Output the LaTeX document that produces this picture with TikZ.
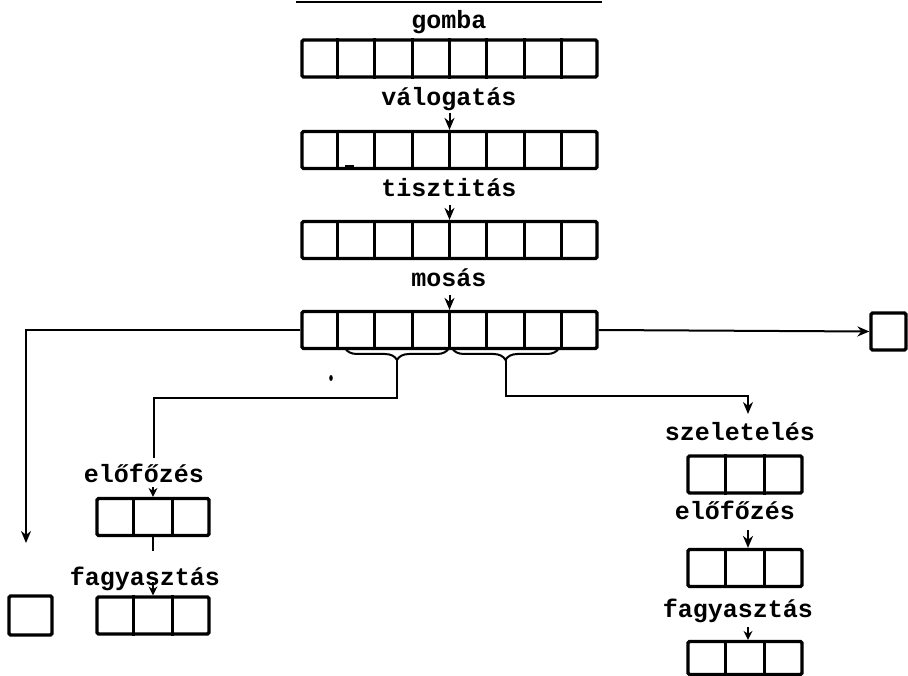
\documentclass[tikz,border=0pt]{standalone}
\usepackage{fontspec}
\setmonofont{Liberation Mono}
\usetikzlibrary{arrows.meta,decorations.pathreplacing,calc}
\begin{document}
\begin{tikzpicture}[x=1pt,y=-1pt,
  lbl/.style={font=\ttfamily\bfseries\fontsize{25}{25}\selectfont, inner sep=0pt, anchor=base},
  cellrow/.style={draw, line width=3.2pt, rounded corners=1.5pt, minimum height=37pt, inner sep=0pt},
  row8/.style={cellrow, minimum width=295pt},
  row3/.style={cellrow, minimum width=112pt},
  row3w/.style={cellrow, minimum width=114pt},
  single/.style={cellrow},
  divider/.style={line width=3pt},
  wire/.style={line width=2pt},
  arr/.style={wire, -{Stealth[length=12pt,width=10pt]}},
  stubarr/.style={wire, -{Stealth[length=9pt,width=9pt]}},
  bracedeco/.style={wire, decorate, decoration={brace, mirror, amplitude=12pt}}
]
\useasboundingbox (0,0) rectangle (908,676);

% heading rule
\coordinate (hl) at (296,2);
\coordinate (hr) at (602,2);
\draw[line width=2pt] (hl) -- (hr);

% main line of eight-cell rows
\node[lbl] (l1) at (449,29) {gomba};
\node[row8] (r1) at (449.5,58.5) {};
\node[lbl] (l2) at (449,106) {válogatás};
\node[row8] (r2) at (449.5,150) {};
\node[lbl] (l3) at (449,197) {tisztitás};
\node[row8] (r3) at (449.5,240) {};
\node[lbl] (l4) at (449,287) {mosás};
\node[row8] (r4) at (449.5,330) {};

\foreach \r in {r1,r2,r3,r4}
  \foreach \k in {1,...,7}
    \draw[divider] ($(\r.north west)!\k/8!(\r.north east)$) -- ($(\r.south west)!\k/8!(\r.south east)$);

\draw[arr] (r2.north |- l2.base) ++(0,7) -- (r2.north);
\draw[arr] (r3.north |- l3.base) ++(0,8) -- (r3.north);
\draw[arr] (r4.north |- l4.base) ++(0,8) -- (r4.north);

% small blemish in the second row
\draw[line width=2.6pt] (345,166) -- (354,166);

% side outlets of the washing row
\node[single, minimum width=35pt] (bx2) at (888.5,331.5) {};
\draw[arr] (r4.east) -- (bx2.west);
\coordinate (lt) at (26,543);
\draw[arr] (r4.west) -| (lt);
\node[single, minimum width=43pt, minimum height=39pt] (bx1) at (30.5,615.5) {};

% splitting braces
\coordinate (bA1) at (345,348);
\coordinate (bA2) at (449,348);
\coordinate (bB1) at (452,348);
\coordinate (bB2) at (559,348);
\draw[bracedeco] (bA1) -- (bA2);
\draw[bracedeco] (bB1) -- (bB2);
\coordinate (tipA) at (397,360);
\coordinate (tipB) at (505.5,360);
\fill (331,378) ellipse (1.8pt and 3pt);

% left branch
\coordinate (jA) at (154,458);
\draw[wire] (tipA) -- (397,398) -| (jA);
\node[lbl] (l5) at (144,482) {előfőzés};
\node[row3] (r5) at (153,517) {};
\draw[stubarr] (r5.north) ++(0,-10) -- (r5.north);
\draw[wire] (r5.south) -- ++(0,14);
\node[lbl] (l6) at (145,585) {fagyasztás};
\node[row3] (r6) at (153,615.5) {};
\draw[stubarr] (r6.north) ++(0,-13) -- (r6.north);

% right branch
\node[lbl] (l7) at (740,440) {szeletelés};
\coordinate (jB) at (748,414);
\draw[arr] (tipB) -- (505.5,396) -| (jB);
\node[row3w] (r7) at (745,474.5) {};
\node[lbl] (l8) at (735,519) {előfőzés};
\node[row3w] (r8) at (745,568) {};
\draw[arr] (r8.north) ++(3,-18) -- ++(0,18);
\node[lbl] (l9) at (738,617) {fagyasztás};
\node[row3w, minimum height=33pt] (r9) at (745,658) {};
\draw[stubarr] (r9.north) ++(3,-13) -- ++(0,13);

\foreach \r in {r5,r6,r7,r8,r9}
  \foreach \k in {1,2}
    \draw[divider] ($(\r.north west)!\k/3!(\r.north east)$) -- ($(\r.south west)!\k/3!(\r.south east)$);
\end{tikzpicture}
\end{document}
